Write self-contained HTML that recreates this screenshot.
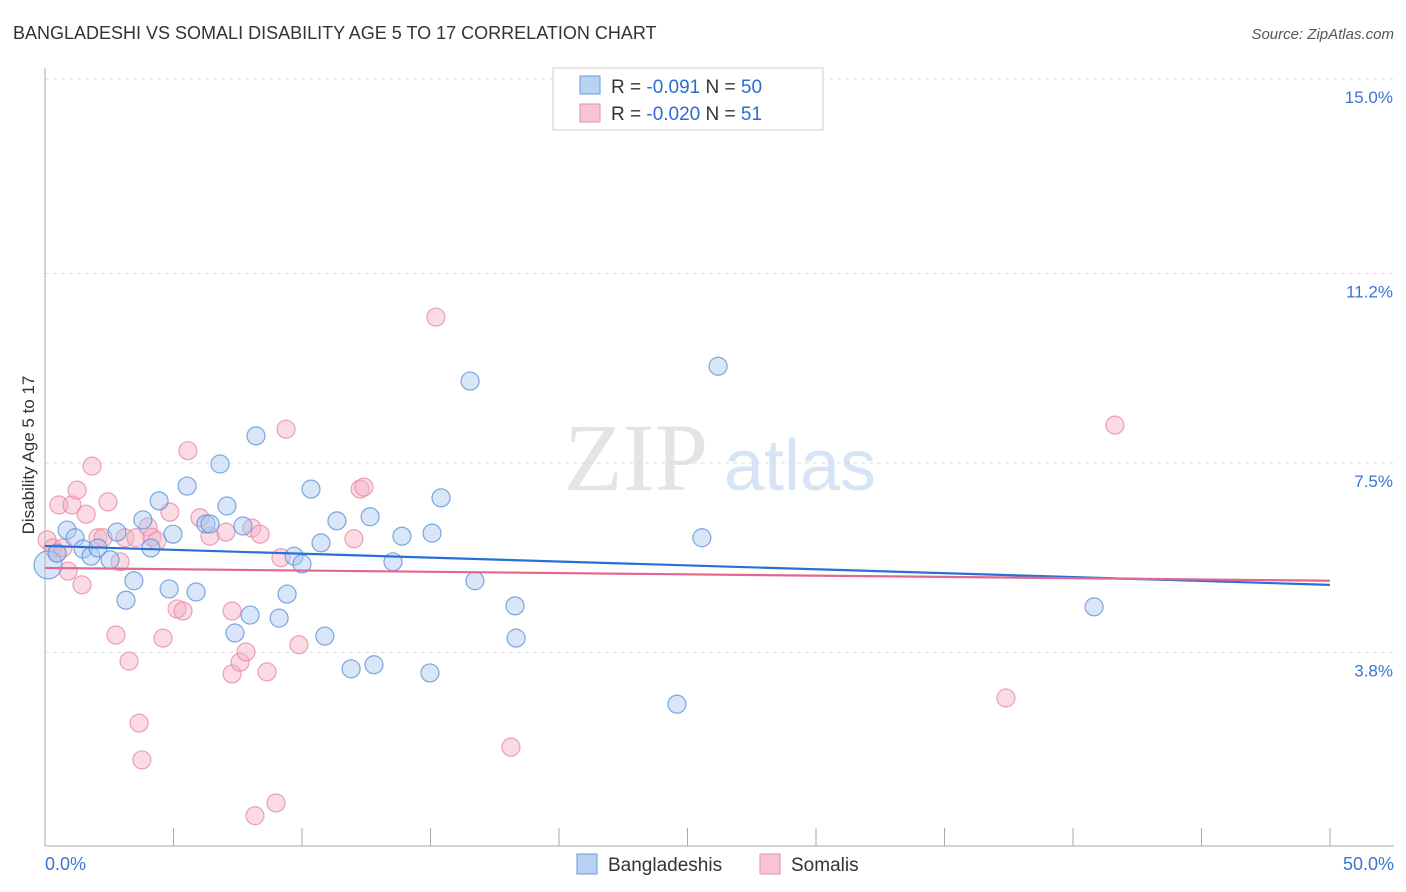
<!DOCTYPE html>
<html><head><meta charset="utf-8"><style>
body{margin:0;background:#fff;font-family:"Liberation Sans",sans-serif;}
svg{display:block}
</style></head><body>
<svg id="chart" width="1406" height="892" xmlns="http://www.w3.org/2000/svg">
<text x="13" y="39" font-size="18" fill="#333">BANGLADESHI VS SOMALI DISABILITY AGE 5 TO 17 CORRELATION CHART</text>
<text x="1394" y="39" font-size="15" fill="#555" font-style="italic" text-anchor="end">Source: ZipAtlas.com</text>
<g>
<text x="636" y="490" font-size="96" fill="#e4e4e4" font-family="Liberation Serif,serif" text-anchor="middle">ZIP</text>
<text x="800" y="490" font-size="72" fill="#d6e4f5" text-anchor="middle">atlas</text>
</g>
<g id="grid"></g>
<g id="axes"></g>
<g id="marks"></g>
<text x="34" y="455" font-size="17" fill="#333" text-anchor="middle" transform="rotate(-90 34 455)">Disability Age 5 to 17</text>
<g>
<rect x="553" y="68" width="270" height="62" fill="#fff" stroke="#ccc"/>
<rect x="580" y="76" width="20" height="18" fill="#b8d2f3" stroke="#6a9ad8"/>
<rect x="580" y="104" width="20" height="18" fill="#f8c4d2" stroke="#e58fa9"/>
<text x="611" y="93" font-size="19" fill="#333">R = <tspan fill="#2b6cd4">-0.091</tspan>   N = <tspan fill="#2b6cd4">50</tspan></text>
<text x="611" y="120" font-size="19" fill="#333">R = <tspan fill="#2b6cd4">-0.020</tspan>   N =  <tspan fill="#2b6cd4">51</tspan></text>
</g>
<g>
<rect x="577" y="854" width="20" height="20" fill="#b8d2f3" stroke="#6a9ad8"/>
<text x="608" y="871" font-size="19" fill="#333">Bangladeshis</text>
<rect x="760" y="854" width="20" height="20" fill="#f8c4d2" stroke="#e58fa9"/>
<text x="791" y="871" font-size="19" fill="#333">Somalis</text>
</g>
</svg>
<script>
const yTicks=[15.0,11.2,7.5,3.8];
const yTickLabels=["15.0%","11.2%","7.5%","3.8%"];
const xTickLabels=["0.0%","50.0%"];
const blueX=[0.12,0.47,0.86,1.17,1.48,1.79,2.06,2.53,2.80,3.15,3.46,3.81,4.12,4.44,4.83,4.98,5.53,5.88,6.26,6.42,6.81,7.08,7.39,7.70,7.98,8.21,9.11,9.42,9.69,10.00,10.35,10.74,10.89,11.36,11.91,12.65,12.80,13.54,13.89,14.98,15.06,15.41,16.54,16.73,18.29,18.33,24.59,25.56,26.19,40.82];
const blueY=[5.51,5.74,6.19,6.04,5.82,5.68,5.84,5.61,6.15,4.82,5.20,6.39,5.84,6.76,5.04,6.11,7.05,4.98,6.31,6.31,7.48,6.66,4.18,6.27,4.53,8.03,4.47,4.94,5.68,5.53,6.99,5.94,4.12,6.37,3.48,6.45,3.56,5.57,6.07,3.40,6.13,6.82,9.10,5.20,4.71,4.08,2.79,6.04,9.39,4.69];
const pinkX=[0.08,0.31,0.47,0.54,0.70,0.90,1.05,1.25,1.44,1.60,1.83,2.06,2.26,2.45,2.76,2.92,3.11,3.27,3.54,3.66,3.77,4.01,4.16,4.36,4.59,4.86,5.14,5.37,5.56,6.03,6.42,7.04,7.28,7.28,7.59,7.82,8.05,8.17,8.37,8.64,8.99,9.18,9.38,9.88,12.02,12.26,12.41,15.21,18.13,37.39,41.63];
const pinkY=[6.00,5.84,5.74,6.68,5.84,5.39,6.68,6.97,5.12,6.50,7.44,6.04,6.04,6.74,4.14,5.57,6.04,3.63,6.04,2.42,1.70,6.25,6.05,5.98,4.08,6.54,4.65,4.61,7.74,6.43,6.07,6.15,4.61,3.38,3.61,3.81,6.23,0.61,6.11,3.42,0.86,5.65,8.16,3.95,6.02,6.99,7.03,10.35,1.95,2.91,8.24];
const blueTrend=[5.88,5.12];
const pinkTrend=[5.45,5.20];
const NS="http://www.w3.org/2000/svg";
const X0=45,X1=1330,Y0=79,YPER=51.2;
function sx(v){return X0+(v/50)*(X1-X0);}
function sy(v){return Y0+(15-v)*YPER;}
function mk(t,a,p){const e=document.createElementNS(NS,t);for(const k in a)e.setAttribute(k,a[k]);p.appendChild(e);return e;}
const grid=document.getElementById('grid'),axes=document.getElementById('axes'),marks=document.getElementById('marks');
yTicks.forEach((v,i)=>{
 const l=mk('line',{x1:X0,x2:1394,y1:sy(v),y2:sy(v),stroke:'#ddd','stroke-dasharray':'4,4'},grid);
 
 
 const t=mk('text',{x:1393,y:sy(v)+24,'font-size':17,fill:'#3a75d0','text-anchor':'end'},grid);
 t.textContent=yTickLabels[i];
 
 
});
const ax=mk('line',{x1:X0,x2:X0,y1:68,y2:846,stroke:'#aaa'},axes);


const bx=mk('line',{x1:X0,x2:1394,y1:846,y2:846,stroke:'#aaa'},axes);


for(let i=0;i<=10;i++){
 const tk=mk('line',{x1:sx(i*5),x2:sx(i*5),y1:828,y2:846,stroke:'#aaa'},axes);
 
 
}
[[0,'start',45],[50,'end',1394]].forEach((d,i)=>{
 const t=mk('text',{x:d[2],y:870,'font-size':18,fill:'#3a75d0','text-anchor':d[1]},axes);
 t.textContent=xTickLabels[i];
 
 
});
function pts(xs,ys,fill,stroke,name){
 xs.forEach((x,i)=>{
  const c=mk('circle',{cx:sx(x),cy:sy(ys[i]),r:i===0&&name==='bangladeshi-point'?14:9,fill:fill,'fill-opacity':0.45,stroke:stroke,'stroke-opacity':0.8,'stroke-width':1.2},marks);
  
  
 });
}
pts(pinkX,pinkY,'#f4b0c4','#e88aa6','somali-point');
pts(blueX,blueY,'#a9c7ef','#5e92da','bangladeshi-point');
const bl=mk('line',{x1:sx(0),x2:sx(50),y1:sy(blueTrend[0]),y2:sy(blueTrend[1]),stroke:'#2a6fd6','stroke-width':2.2},marks);


const pl=mk('line',{x1:sx(0),x2:sx(50),y1:sy(pinkTrend[0]),y2:sy(pinkTrend[1]),stroke:'#e3668e','stroke-width':2.2},marks);


</script>
</body></html>
